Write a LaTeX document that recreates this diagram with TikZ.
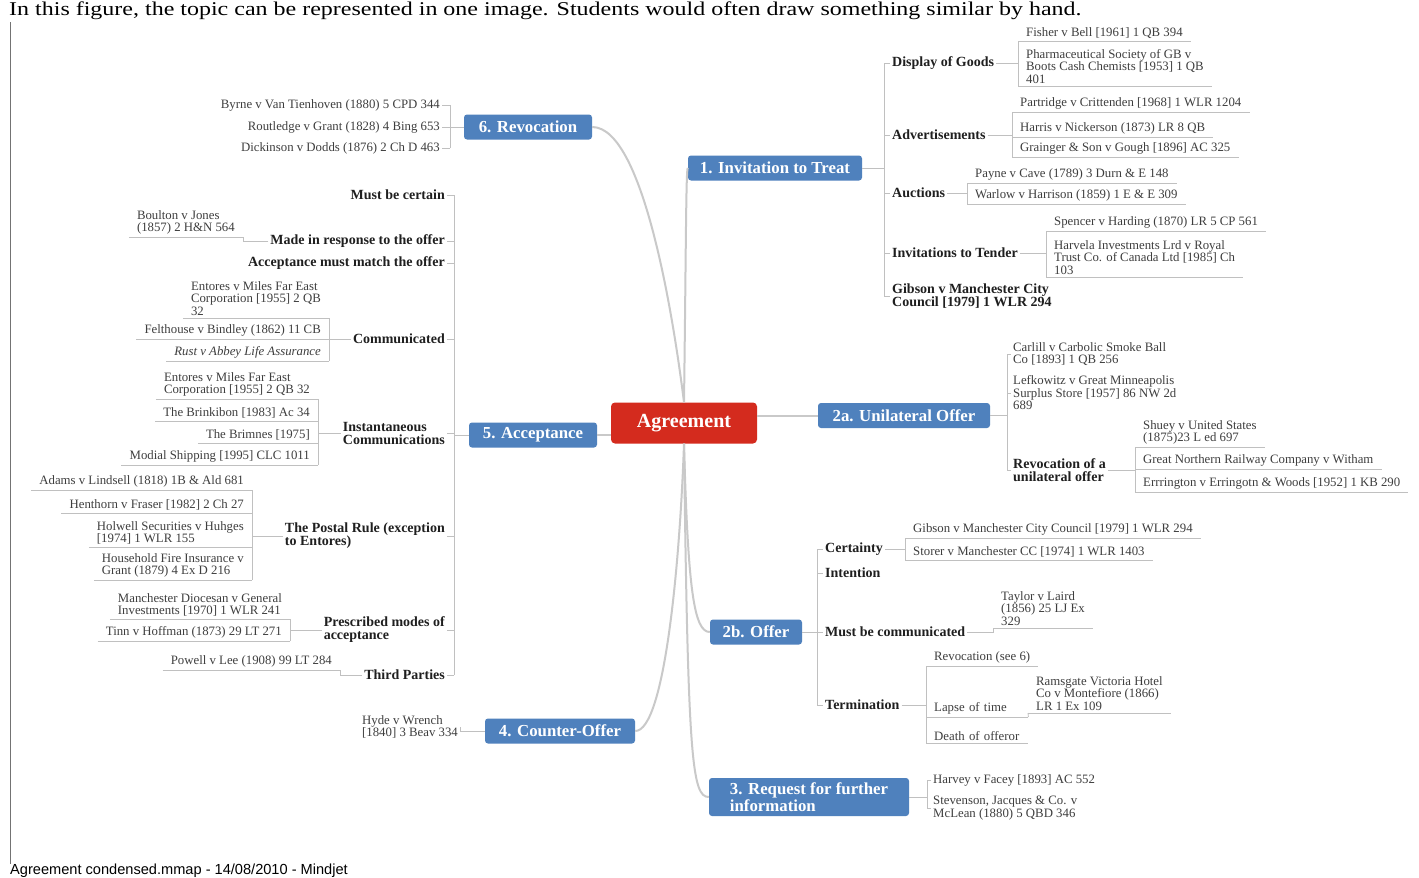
\documentclass[tikz,border=0pt]{standalone}
\usepackage{fontspec}
\setmainfont{Liberation Serif}
\newfontfamily\footfont{Liberation Sans}
\definecolor{boxblue}{RGB}{79,129,189}
\definecolor{agreered}{RGB}{212,43,30}
\definecolor{linegray}{RGB}{192,192,192}
\definecolor{casegray}{RGB}{62,62,62}
\begin{document}
\begin{tikzpicture}[x=1pt,y=-1pt,
  main/.style={draw=linegray!85, line width=2pt},
  sub/.style={draw=linegray, line width=0.8pt},
  topicbox/.style={fill=boxblue, rounded corners=3pt, text=white, font=\fontsize{16.8}{14}\selectfont\bfseries, minimum height=25pt, inner sep=0pt, align=left},
  agreebox/.style={fill=agreered, rounded corners=4pt, text=white, font=\fontsize{20}{20}\selectfont\bfseries, minimum width=146pt, minimum height=41pt, inner sep=0pt},
  topic/.style={text=black!88, font=\fontsize{14}{13}\selectfont\bfseries, align=left, inner sep=2pt},
  note/.style={text=casegray, font=\fontsize{12.8}{12.5}\selectfont, align=left, inner xsep=2pt, inner ysep=1pt},
  caser/.style={note, anchor=south west, inner xsep=8pt, inner ysep=2.5pt, append after command={(\tikzlastnode.south west) edge[sub] (\tikzlastnode.south east)}},
  casel/.style={caser, anchor=south east},
  header/.style={font=\fontsize{19.5}{19.5}\selectfont, inner sep=0pt},
  footer/.style={font=\footfont\fontsize{14.6}{14.6}\selectfont, inner sep=0pt}]
\fill[white] (0,0) rectangle (1419,878);
\useasboundingbox (0,0) rectangle (1419,878);
% page frame and captions
\draw[draw=black!55, line width=0.8pt] (10,22) -- (10,864);
\node[header, anchor=base west] (caption) at (9,15.5) {\scalebox{1.23}[1]{In this figure, the topic can be represented in one image. Students would often draw something similar by hand.}};
\node[footer, anchor=base west] (footline) at (10,874.5) {Agreement condensed.mmap - 14/08/2010 - Mindjet};
% central topic and main branches
\node[agreebox] (agree) at (684,423) {Agreement};
\node[topicbox, minimum width=174pt] (invit) at (775,168) {1. Invitation to Treat};
\node[topicbox, minimum width=128pt] (revoc) at (528,127) {6. Revocation};
\node[topicbox, minimum width=172pt] (unilat) at (904,415.5) {2a. Unilateral Offer};
\node[topicbox, minimum width=128pt] (accept) at (533,435) {5. Acceptance};
\node[topicbox, minimum width=92pt] (offer) at (756,632) {2b. Offer};
\node[topicbox, minimum width=150pt] (counter) at (560,731) {4. Counter-Offer};
\node[topicbox, minimum width=200pt, minimum height=38pt] (request) at (809,797) {3. Request for further\\information};
\draw[main] (agree.north) .. controls (686,250) and (686,168) .. (invit.west);
\draw[main] (agree.north) .. controls (675,330) and (645,127) .. (revoc.east);
\draw[main] (agree.east |- unilat.west) -- (unilat.west);
\draw[main] (agree.west |- accept.east) -- (accept.east);
\draw[main] (agree.south) .. controls (688,590) and (694,632) .. (offer.west);
\draw[main] (agree.south) .. controls (688,760) and (692,797) .. (request.west);
\draw[main] (agree.south) .. controls (680,560) and (665,731) .. (counter.east);
% 1. invitation to treat
\coordinate (invitbr) at (884,168);
\node[topic, anchor=west] (display) at (890,63) {Display of Goods};
\node[topic, anchor=west] (advert) at (890,135) {Advertisements};
\node[topic, anchor=west] (auction) at (890,193) {Auctions};
\node[topic, anchor=west] (tender) at (890,253) {Invitations to Tender};
\node[topic, anchor=west] (gibsona) at (890,296) {Gibson v Manchester City\\Council [1979] 1 WLR 294};
\draw[sub] (invit.east) -- (invitbr);
\draw[sub] (display.west -| invitbr) -- (gibsona.west -| invitbr);
\draw[sub] (display.west -| invitbr) -- (display.west);
\draw[sub] (advert.west -| invitbr) -- (advert.west);
\draw[sub] (auction.west -| invitbr) -- (auction.west);
\draw[sub] (tender.west -| invitbr) -- (tender.west);
\draw[sub] (gibsona.west -| invitbr) -- (gibsona.west);
\node[caser] (fisher) at (1018,41) {Fisher v Bell [1961] 1 QB 394};
\node[caser] (pharma) at (1018,86) {Pharmaceutical Society of GB v\\Boots Cash Chemists [1953] 1 QB\\401};
\draw[sub] (display.east) -- (display.east -| fisher.south west);
\draw[sub] (fisher.south west) -- (pharma.south west);
\node[caser] (partridge) at (1012,112) {Partridge v Crittenden [1968] 1 WLR 1204};
\node[caser] (harris) at (1012,137) {Harris v Nickerson (1873) LR 8 QB};
\node[caser] (grainger) at (1012,157) {Grainger \& Son v Gough [1896] AC 325};
\draw[sub] (advert.east) -- (advert.east -| partridge.south west);
\draw[sub] (partridge.south west) -- (grainger.south west);
\node[caser] (payne) at (967,183) {Payne v Cave (1789) 3 Durn \& E 148};
\node[caser] (warlow) at (967,204) {Warlow v Harrison (1859) 1 E \& E 309};
\draw[sub] (auction.east) -- (auction.east -| payne.south west);
\draw[sub] (payne.south west) -- (warlow.south west);
\node[caser] (spencer) at (1046,231) {Spencer v Harding (1870) LR 5 CP 561};
\node[caser] (harvela) at (1046,277) {Harvela Investments Lrd v Royal\\Trust Co. of Canada Ltd [1985] Ch\\103};
\draw[sub] (tender.east) -- (tender.east -| spencer.south west);
\draw[sub] (spencer.south west) -- (harvela.south west);
% 2a. unilateral offer
\coordinate (unilatbr) at (1007,415.5);
\node[note, anchor=west] (carlill) at (1011,354) {Carlill v Carbolic Smoke Ball\\Co [1893] 1 QB 256};
\node[note, anchor=west] (lefkowitz) at (1011,393) {Lefkowitz v Great Minneapolis\\Surplus Store [1957] 86 NW 2d\\689};
\node[topic, anchor=west] (revuni) at (1011,470) {Revocation of a\\unilateral offer};
\draw[sub] (unilat.east) -- (unilatbr);
\draw[sub] (carlill.west -| unilatbr) -- (revuni.west -| unilatbr);
\draw[sub] (carlill.west -| unilatbr) -- (carlill.west);
\draw[sub] (lefkowitz.west -| unilatbr) -- (lefkowitz.west);
\draw[sub] (revuni.west -| unilatbr) -- (revuni.west);
\node[caser] (shuey) at (1135,447) {Shuey v United States\\(1875)23 L ed 697};
\node[caser] (northern) at (1135,469) {Great Northern Railway Company v Witham};
\node[caser] (errington) at (1135,492) {Errrington v Erringotn \& Woods [1952] 1 KB 290};
\draw[sub] (revuni.east) -- (revuni.east -| shuey.south west);
\draw[sub] (shuey.south west) -- (errington.south west);
% 2b. offer
\coordinate (offerbr) at (817,632);
\node[topic, anchor=west] (certain) at (823,549) {Certainty};
\node[topic, anchor=west] (intent) at (823,573) {Intention};
\node[topic, anchor=west] (mustcom) at (823,632) {Must be communicated};
\node[topic, anchor=west] (termin) at (823,705) {Termination};
\draw[sub] (offer.east) -- (offerbr);
\draw[sub] (certain.west -| offerbr) -- (termin.west -| offerbr);
\draw[sub] (certain.west -| offerbr) -- (certain.west);
\draw[sub] (intent.west -| offerbr) -- (intent.west);
\draw[sub] (mustcom.west -| offerbr) -- (mustcom.west);
\draw[sub] (termin.west -| offerbr) -- (termin.west);
\node[caser] (gibsonb) at (905,538) {Gibson v Manchester City Council [1979] 1 WLR 294};
\node[caser] (storer) at (905,560) {Storer v Manchester CC [1974] 1 WLR 1403};
\draw[sub] (certain.east) -- (certain.east -| gibsonb.south west);
\draw[sub] (gibsonb.south west) -- (storer.south west);
\node[caser] (taylor) at (993,628) {Taylor v Laird\\(1856) 25 LJ Ex\\329};
\draw[sub] (mustcom.east) -| (taylor.south west);
\node[caser] (revsee) at (926,666) {Revocation (see 6)};
\node[caser, text width=86pt] (lapse) at (926,717) {Lapse of time};
\node[caser, text width=86pt] (death) at (926,743) {Death of offeror};
\draw[sub] (termin.east) -- (termin.east -| revsee.south west);
\draw[sub] (revsee.south west) -- (death.south west);
\node[caser] (ramsgate) at (1028,713) {Ramsgate Victoria Hotel\\Co v Montefiore (1866)\\LR 1 Ex 109};
\draw[sub] (lapse.south east) -- (ramsgate.south west);
% 3. request for further information
\coordinate (requestbr) at (927,797);
\node[note, anchor=west] (harvey) at (931,780) {Harvey v Facey [1893] AC 552};
\node[note, anchor=west] (stevenson) at (931,808) {Stevenson, Jacques \& Co. v\\McLean (1880) 5 QBD 346};
\draw[sub] (request.east) -- (requestbr);
\draw[sub] (harvey.west -| requestbr) -- (stevenson.west -| requestbr);
\draw[sub] (harvey.west -| requestbr) -- (harvey.west);
\draw[sub] (stevenson.west -| requestbr) -- (stevenson.west);
% 6. revocation
\coordinate (revocbr) at (450,127);
\node[note, anchor=east] (byrne) at (442,105) {Byrne v Van Tienhoven (1880) 5 CPD 344};
\node[note, anchor=east] (routledge) at (442,127) {Routledge v Grant (1828) 4 Bing 653};
\node[note, anchor=east] (dickinson) at (442,148) {Dickinson v Dodds (1876) 2 Ch D 463};
\draw[sub] (revoc.west) -- (revocbr);
\draw[sub] (byrne.east -| revocbr) -- (dickinson.east -| revocbr);
\draw[sub] (byrne.east -| revocbr) -- (byrne.east);
\draw[sub] (routledge.east -| revocbr) -- (routledge.east);
\draw[sub] (dickinson.east -| revocbr) -- (dickinson.east);
% 5. acceptance
\coordinate (acceptbr) at (454,435);
\node[topic, anchor=east] (mcertain) at (447,195) {Must be certain};
\node[topic, anchor=east] (response) at (447,241) {Made in response to the offer};
\node[topic, anchor=east] (match) at (447,263) {Acceptance must match the offer};
\node[topic, anchor=east] (commun) at (447,339) {Communicated};
\node[topic, anchor=east] (instant) at (447,433) {Instantaneous\\Communications};
\node[topic, anchor=east] (postal) at (447,536) {The Postal Rule (exception\\to Entores)};
\node[topic, anchor=east] (prescr) at (447,630) {Prescribed modes of\\acceptance};
\node[topic, anchor=east] (third) at (447,675) {Third Parties};
\draw[sub] (accept.west) -- (acceptbr);
\draw[sub] (mcertain.east -| acceptbr) -- (third.east -| acceptbr);
\draw[sub] (mcertain.east -| acceptbr) -- (mcertain.east);
\draw[sub] (response.east -| acceptbr) -- (response.east);
\draw[sub] (match.east -| acceptbr) -- (match.east);
\draw[sub] (commun.east -| acceptbr) -- (commun.east);
\draw[sub] (instant.east -| acceptbr) -- (instant.east);
\draw[sub] (postal.east -| acceptbr) -- (postal.east);
\draw[sub] (prescr.east -| acceptbr) -- (prescr.east);
\draw[sub] (third.east -| acceptbr) -- (third.east);
\node[casel] (boulton) at (243,237) {Boulton v Jones\\(1857) 2 H\&N 564};
\draw[sub] (response.west) -| (boulton.south east);
\node[casel] (entoresa) at (329,318) {Entores v Miles Far East\\Corporation [1955] 2 QB\\32};
\node[casel] (felthouse) at (329,339) {Felthouse v Bindley (1862) 11 CB};
\node[casel] (rust) at (329,361) {\textit{Rust v Abbey Life Assurance}};
\draw[sub] (commun.west) -- (commun.west -| felthouse.south east);
\draw[sub] (entoresa.south east) -- (rust.south east);
\node[casel] (entoresb) at (318,399) {Entores v Miles Far East\\Corporation [1955] 2 QB 32};
\node[casel] (brinkibon) at (318,421) {The Brinkibon [1983] Ac 34};
\node[casel] (brimnes) at (318,443) {The Brimnes [1975]};
\node[casel] (modial) at (318,465) {Modial Shipping [1995] CLC 1011};
\draw[sub] (instant.west) -- (instant.west -| entoresb.south east);
\draw[sub] (entoresb.south east) -- (modial.south east);
\node[casel] (adams) at (252,490) {Adams v Lindsell (1818) 1B \& Ald 681};
\node[casel] (henthorn) at (252,513) {Henthorn v Fraser [1982] 2 Ch 27};
\node[casel] (holwell) at (252,547) {Holwell Securities v Huhges\\{}[1974] 1 WLR 155};
\node[casel] (household) at (252,580) {Household Fire Insurance v\\Grant (1879) 4 Ex D 216};
\draw[sub] (postal.west) -- (postal.west -| adams.south east);
\draw[sub] (adams.south east) -- (household.south east);
\node[casel] (manchester) at (290,619) {Manchester Diocesan v General\\Investments [1970] 1 WLR 241};
\node[casel] (tinn) at (290,641) {Tinn v Hoffman (1873) 29 LT 271};
\draw[sub] (prescr.west) -- (prescr.west -| manchester.south east);
\draw[sub] (manchester.south east) -- (tinn.south east);
\node[casel] (powell) at (340,670) {Powell v Lee (1908) 99 LT 284};
\draw[sub] (third.west) -| (powell.south east);
% 4. counter-offer
\node[note, anchor=east] (hyde) at (460,727) {Hyde v Wrench\\{}[1840] 3 Beav 334};
\draw[sub] (counter.west) -| (hyde.east);
\end{tikzpicture}
\end{document}
